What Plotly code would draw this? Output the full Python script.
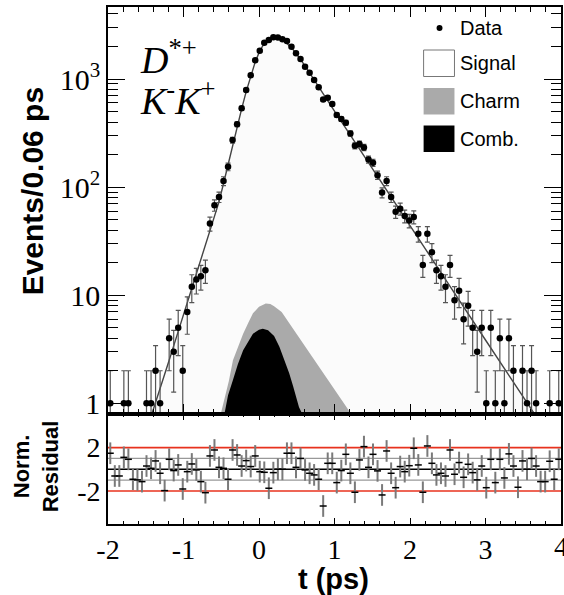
import numpy as np
import plotly.graph_objects as go

# ---------------- data ----------------
N_BINS = 100
BIN_W = 0.06
t_lo = -2.0
bin_t = np.round(t_lo + BIN_W / 2 + BIN_W * np.arange(N_BINS), 3)

counts = [1, 0, 0, 1, 1, 0, 0, 0, 1, 1,
          2, 1, 0, 4, 3, 5, 2, 7, 12, 14,
          15, 17, 46, 68, 81, 114, 154, 272, 381, 535,
          791, 1082, 1490, 1828, 2169, 2296, 2432, 2420, 2333, 2249,
          1991, 1730, 1531, 1300, 1143, 979, 838, 645, 670, 587,
          465, 427, 394, 314, 241, 250, 233, 180, 168, 129,
          89, 114, 81, 59, 63, 54, 49, 53, 37, 19,
          37, 25, 17, 15, 12, 19, 9, 11, 6, 8,
          5, 3, 5, 1, 5, 1, 4, 1, 4, 2,
          0, 2, 1, 2, 1, 0, 0, 1, 0, 1]

residuals = [1.48, -0.62, -0.62, 1.1, 0.92, -0.92, -0.98, -1.14, 0.3, 0.09,
             0.77, -0.37, -1.97, 0.92, -0.12, 0.4, -1.82, -0.22, 0.49, -0.06,
             -1.14, -2.16, 1.23, 1.78, 0.18, 0.09, -0.92, 1.78, 1.32, 0.3,
             0.8, 0.25, 1.23, -0.22, -0.28, -1.75, -0.31, 0.0, 0.0, 1.48,
             1.48, 0.18, 1.0, -0.06, -0.37, -0.52, -0.92, -3.39, 0.55,
             0.55, -1.23, -0.12, 1.38, -0.37, -2.12, 0.86, 2.09, 0.18, 1.38,
             -0.15, -2.37, 1.69, -0.37, -1.7, 0.25, -0.22, 0.33, 1.94, 0.4,
             -2.12, 2.15, 0.55, -0.52, -0.37, -0.62, 1.78, -0.46, 0.62, -0.74,
             0.46, -0.31, -0.98, 0.3, -1.7, 0.92, -1.23, 0.92, -0.8, 1.42,
             0.3, -1.66, 0.77, 0.0, 1.0, 0.3, -1.14, -1.14, 0.74, -0.92, 0.92]

# total fit curve
fit_t = [-1.49, -1.43, -1.37, -1.31, -1.25, -1.19, -1.13, -1.07, -1.01, -0.95,
         -0.89, -0.83, -0.77, -0.71, -0.65, -0.59, -0.53, -0.47, -0.41, -0.35,
         -0.29, -0.23, -0.17, -0.11, -0.05, 0.01, 0.07, 0.13, 0.19, 0.25,
         0.31, 0.37, 0.43, 0.49, 0.55, 0.61, 1.0, 1.5, 2.0, 2.5,
         3.0, 3.5, 4.0]
fit_v = [0.56, 0.75, 1.02, 1.37, 1.85, 2.5, 3.4, 4.6, 6.2, 8.4,
         11.4, 15.4, 20.7, 28, 38, 53, 73, 108, 163, 243,
         362, 530, 765, 1070, 1440, 1820, 2130, 2340, 2430, 2400,
         2290, 2130, 1950, 1730, 1520, 1320, 505, 148, 44, 13,
         3.85, 1.13, 0.34]

# charm background (gray, drawn behind comb)
charm_t = [-0.51, -0.44, -0.40, -0.345, -0.27, -0.21, -0.14, -0.08, 0.0, 0.09,
           0.15, 0.2, 0.3, 0.45, 0.6, 0.75, 0.9, 1.05, 1.23]
charm_v = [0.78, 1.19, 1.6, 2.5, 3.5, 4.4, 5.6, 6.8, 7.8, 8.4,
           8.3, 7.9, 7.0, 4.9, 3.45, 2.42, 1.7, 1.19, 0.78]

# combinatorial background (black)
comb_t = [-0.46, -0.41, -0.345, -0.28, -0.21, -0.14, -0.08, 0.0, 0.05, 0.12,
          0.2, 0.27, 0.34, 0.40, 0.45, 0.49, 0.53, 0.58]
comb_v = [0.78, 1.19, 1.64, 2.3, 3.1, 3.8, 4.4, 4.8, 4.9, 4.75,
          4.2, 3.34, 2.5, 1.9, 1.45, 1.12, 0.92, 0.78]

y_tickvals = [1, 10, 100, 1000]
y_ticktext = ["1", "10", "10<sup>2</sup>", "10<sup>3</sup>"]
y_minor = [v * d for d in (1, 10, 100, 1000) for v in range(2, 10)]
x_tickvals = [-2, -1, 0, 1, 2, 3]
x_ticktext = ["-2", "-1", "0", "1", "2", "3"]
x_edge_val, x_edge_text = 4, "4"
res_tickvals = [-2, 2]
res_ticktext = ["-2", "2"]

# ---------------- layout geometry ----------------
W, H = 564, 595
ML, MR, MT, MB = 108, 1, 7, 71
PW, PH = W - ML - MR, H - MT - MB
SPLIT_PX = 414


def pxx(xp):
    return (xp - ML) / PW


def pxy(yp):
    return (H - MB - yp) / PH


Y_LOG_RANGE = [-0.099, 3.666]
RES_RANGE = [-5.05, 5.1]
X_RANGE = [-2, 4]
BASE = 10 ** (Y_LOG_RANGE[0] - 1)

SERIF = "Liberation Serif, Times New Roman, serif"
SANS = "Liberation Sans, Arial, Helvetica, sans-serif"

fig = go.Figure()


def area(tt, vv, color):
    return go.Scatter(x=list(tt) + [tt[-1], tt[0]], y=list(vv) + [BASE, BASE],
                      mode="lines", fill="toself", fillcolor=color,
                      line=dict(width=0, color=color), hoverinfo="skip",
                      showlegend=False, xaxis="x", yaxis="y")


fig.add_trace(area(fit_t, fit_v, "#fbfbfb"))
fig.add_trace(area(charm_t, charm_v, "#aaaaaa"))
fig.add_trace(area(comb_t, comb_v, "#000000"))
fig.add_trace(go.Scatter(x=fit_t, y=fit_v, mode="lines",
                         line=dict(color="#444444", width=1.4),
                         showlegend=False, xaxis="x", yaxis="y"))

cnt = np.array(counts, dtype=float)
mask = cnt > 0
fig.add_trace(go.Scatter(
    x=bin_t[mask], y=cnt[mask], mode="markers",
    marker=dict(symbol="circle", size=6.5, color="black"),
    error_y=dict(type="data", array=np.sqrt(cnt[mask]), color="#555555",
                 thickness=1.2, width=2.5),
    showlegend=False, xaxis="x", yaxis="y"))

fig.add_trace(go.Scatter(
    x=bin_t, y=residuals, mode="markers",
    marker=dict(symbol="line-ew", size=5, line=dict(width=1.5, color="black")),
    error_y=dict(type="constant", value=1, color="#7a7a7a", thickness=2, width=0),
    showlegend=False, xaxis="x2", yaxis="y2"))

shapes = []
for yv, col, w in [(2, "#e8321e", 1.6), (-2, "#e8321e", 1.6),
                   (1, "#999999", 1.2), (-1, "#999999", 1.2), (0, "#000000", 1.6)]:
    shapes.append(dict(type="line", xref="x2", yref="y2", x0=X_RANGE[0], x1=X_RANGE[1],
                       y0=yv, y1=yv, line=dict(color=col, width=w), layer="below"))

# legend (manual)
shapes.append(dict(type="circle", xref="paper", yref="paper",
                   x0=pxx(438), x1=pxx(444), y0=pxy(31), y1=pxy(25),
                   fillcolor="black", line=dict(width=0)))
shapes.append(dict(type="rect", xref="paper", yref="paper",
                   x0=pxx(425), x1=pxx(456), y0=pxy(76.5), y1=pxy(50),
                   fillcolor="white", line=dict(color="#777777", width=1)))
shapes.append(dict(type="rect", xref="paper", yref="paper",
                   x0=pxx(425), x1=pxx(456), y0=pxy(114.5), y1=pxy(88),
                   fillcolor="#aaaaaa", line=dict(width=0)))
shapes.append(dict(type="rect", xref="paper", yref="paper",
                   x0=pxx(425), x1=pxx(456), y0=pxy(152), y1=pxy(125.5),
                   fillcolor="black", line=dict(width=0)))

annotations = []
for txt, yc in [("Data", 28), ("Signal", 63), ("Charm", 101), ("Comb.", 139)]:
    annotations.append(dict(text=txt, xref="paper", yref="paper", x=pxx(460), y=pxy(yc),
                            xanchor="left", yanchor="middle", showarrow=False,
                            font=dict(family=SANS, size=20, color="black")))

annotations.append(dict(text="<i>D</i><sup>*+</sup>", xref="paper", yref="paper",
                        x=pxx(138), y=pxy(57), xanchor="left", yanchor="middle",
                        showarrow=False, font=dict(family=SERIF, size=38, color="black")))
annotations.append(dict(text="<i>K</i><sup>-</sup><i>K</i><sup>+</sup>", xref="paper", yref="paper",
                        x=pxx(138), y=pxy(98), xanchor="left", yanchor="middle",
                        showarrow=False, font=dict(family=SERIF, size=38, color="black")))

annotations.append(dict(text="<b>Events/0.06 ps</b>", xref="paper", yref="paper",
                        x=pxx(33), y=pxy(191), xanchor="center", yanchor="middle",
                        textangle=-90, showarrow=False,
                        font=dict(family=SANS, size=30, color="black")))
annotations.append(dict(text="<b>Norm.<br>Residual</b>", xref="paper", yref="paper",
                        x=pxx(36), y=pxy(466), xanchor="center", yanchor="middle",
                        textangle=-90, showarrow=False,
                        font=dict(family=SANS, size=22, color="black")))
annotations.append(dict(text="<b>t (ps)</b>", xref="paper", yref="paper",
                        x=pxx(334), y=pxy(579), xanchor="center", yanchor="middle",
                        showarrow=False, font=dict(family=SANS, size=29, color="black")))

split = pxy(SPLIT_PX)
tickfont = dict(family=SERIF, size=28, color="black")

# rightmost x tick label sits on the figure edge (partly cut, as in the reference)
annotations.append(dict(text=x_edge_text, xref="x2", yref="paper", x=x_edge_val,
                        y=pxy(546), xanchor="center", yanchor="middle", showarrow=False,
                        font=tickfont))

fig.update_layout(
    width=W, height=H,
    margin=dict(l=ML, r=MR, t=MT, b=MB, pad=0),
    paper_bgcolor="white", plot_bgcolor="white",
    showlegend=False,
    shapes=shapes, annotations=annotations,
    xaxis=dict(domain=[0, 1], anchor="y", range=X_RANGE, showticklabels=False,
               dtick=1, tick0=0, ticks="inside", ticklen=10, tickwidth=1.2,
               tickcolor="black", showline=True, linecolor="black", linewidth=1.6,
               mirror="ticks", showgrid=False, zeroline=False,
               minor=dict(dtick=0.2, ticks="inside", ticklen=5, tickwidth=1,
                          tickcolor="black", showgrid=False)),
    yaxis=dict(domain=[split, 1], anchor="x", type="log", range=Y_LOG_RANGE,
               tickvals=y_tickvals, ticktext=y_ticktext, tickfont=tickfont | dict(size=30),
               ticks="inside", ticklen=17, tickwidth=1.2, tickcolor="black",
               showline=True, linecolor="black", linewidth=1.6, mirror="ticks",
               showgrid=False, zeroline=False,
               minor=dict(tickvals=y_minor, ticks="inside", ticklen=10, tickwidth=1,
                          tickcolor="black", showgrid=False)),
    xaxis2=dict(domain=[0, 1], anchor="y2", range=X_RANGE,
                tickvals=x_tickvals, ticktext=x_ticktext, tickfont=tickfont,
                ticks="inside", ticklen=6, tickwidth=1.2, tickcolor="black",
                showline=True, linecolor="black", linewidth=1.6, mirror="ticks",
                showgrid=False, zeroline=False,
                minor=dict(dtick=0.2, ticks="inside", ticklen=3, tickwidth=1,
                           tickcolor="black", showgrid=False)),
    yaxis2=dict(domain=[0, split], anchor="x2", range=RES_RANGE,
                tickvals=res_tickvals, ticktext=res_ticktext, tickfont=tickfont,
                ticks="", showline=True, linecolor="black", linewidth=1.6,
                mirror=True, showgrid=False, zeroline=False),
)

fig.write_html("out.html")
